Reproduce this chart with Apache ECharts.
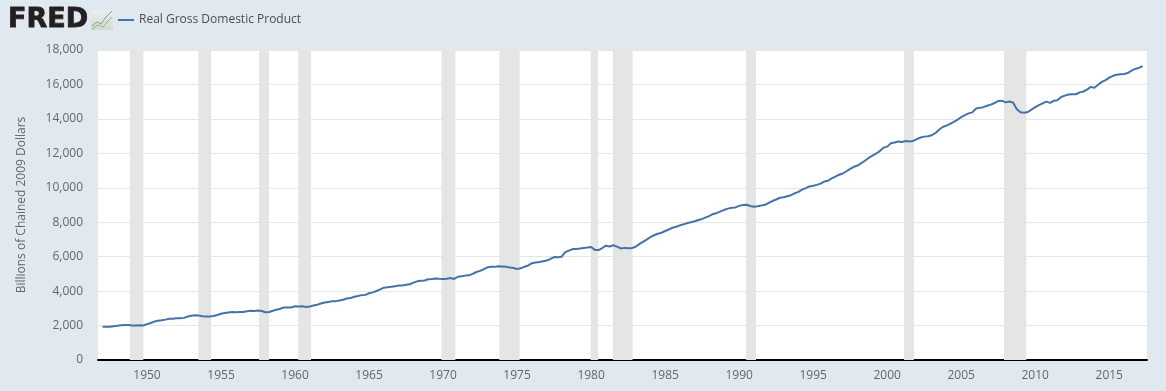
<!DOCTYPE html>
<html lang="en">
	<head>
		<meta charset="utf-8" />
		<title>Real Gross Domestic Product</title>
		<style>
			html, body { margin: 0; padding: 0; background: #e1e9f0; }
		</style>
	</head>
	<body>
		<div id="main" style="width: 1166px; height: 391px;"></div>

		<script src="https://cdn.jsdelivr.net/npm/echarts@6/dist/echarts.min.js"></script>
		<script type="text/javascript">
			const seriesName = 'Real Gross Domestic Product';
			const yAxisName = 'Billions of Chained 2009 Dollars';
			const firstYear = 1947;
			const yTicks = [0, 2000, 4000, 6000, 8000, 10000, 12000, 14000, 16000, 18000];
			const xTickYears = [1950, 1955, 1960, 1965, 1970, 1975, 1980, 1985, 1990, 1995, 2000, 2005, 2010, 2015];

			// quarterly values (1947 Q1 onward, three years a row)
			const gdp = [
				1934, 1932, 1930, 1961, 1990, 2022, 2033, 2035, 2008, 2001, 2023, 2005,
				2085, 2148, 2230, 2273, 2305, 2345, 2393, 2398, 2424, 2429, 2446, 2526,
				2573, 2594, 2579, 2540, 2528, 2531, 2559, 2609, 2684, 2728, 2764, 2781,
				2770, 2793, 2791, 2836, 2855, 2848, 2876, 2846, 2773, 2791, 2856, 2922,
				2977, 3049, 3043, 3055, 3123, 3111, 3119, 3081, 3102, 3160, 3213, 3278,
				3337, 3373, 3405, 3418, 3456, 3501, 3570, 3595, 3673, 3716, 3767, 3780,
				3874, 3926, 4006, 4101, 4202, 4219, 4249, 4286, 4325, 4329, 4366, 4401,
				4491, 4566, 4599, 4620, 4692, 4707, 4736, 4716, 4707, 4715, 4757, 4708,
				4834, 4862, 4900, 4914, 4997, 5109, 5173, 5270, 5385, 5418, 5408, 5445,
				5434, 5420, 5373, 5339, 5286, 5323, 5418, 5491, 5621, 5661, 5689, 5733,
				5773, 5866, 5975, 5964, 5989, 6260, 6350, 6440, 6448, 6475, 6508, 6530,
				6558, 6392, 6383, 6502, 6636, 6587, 6662, 6586, 6475, 6510, 6487, 6493,
				6578, 6729, 6860, 6993, 7133, 7244, 7331, 7390, 7490, 7580, 7680, 7740,
				7820, 7880, 7950, 8000, 8060, 8130, 8190, 8280, 8370, 8480, 8540, 8630,
				8720, 8790, 8845, 8860, 8950, 9000, 9010, 8945, 8900, 8930, 8965, 9010,
				9130, 9230, 9320, 9420, 9450, 9510, 9570, 9680, 9760, 9890, 9980, 10080,
				10120, 10170, 10240, 10360, 10410, 10550, 10650, 10760, 10830, 10960, 11100, 11220,
				11290, 11430, 11570, 11740, 11870, 11990, 12130, 12330, 12390, 12590, 12630, 12690,
				12660, 12711, 12690, 12720, 12823, 12920, 12970, 12990, 13050, 13170, 13373, 13530,
				13606, 13706, 13830, 13951, 14099, 14220, 14320, 14380, 14600, 14640, 14680, 14760,
				14830, 14920, 15040, 15060, 14960, 15010, 14950, 14580, 14380, 14360, 14402, 14541,
				14680, 14800, 14900, 15000, 14930, 15050, 15080, 15270, 15350, 15420, 15430, 15430,
				15540, 15590, 15700, 15860, 15810, 15980, 16150, 16250, 16400, 16500, 16560, 16590,
				16610, 16660, 16800, 16900, 16960, 17070
			];

			// recession bands as decimal years
			const recessionStart = [1948.84, 1953.47, 1957.57, 1960.22, 1969.89, 1973.8, 1979.97, 1981.47, 1990.47, 2001.14, 2007.89];
			const recessionEnd = [1949.75, 1954.33, 1958.25, 1961.08, 1970.83, 1975.17, 1980.47, 1982.8, 1991.14, 2001.8, 2009.4];

			const points = gdp.map((v, i) => [firstYear + i / 4, v]);
			const bands = recessionStart.map((s, i) => [{ xAxis: s }, { xAxis: recessionEnd[i] }]);

			const myChart = echarts.init(document.getElementById('main'));
			const font = '"Open Sans", sans-serif';

			myChart.setOption({
				animation: false,
				backgroundColor: '#e1e9f0',
				textStyle: { fontFamily: font },
				grid: { left: 98, right: 19, top: 50, bottom: 31, show: true, backgroundColor: '#ffffff', borderWidth: 0 },
				legend: {
					left: 113,
					top: 9,
					itemWidth: 16,
					itemHeight: 2,
					itemGap: 5,
					icon: 'rect',
					textStyle: { color: '#4d4d4d', fontSize: 12, fontFamily: font },
					data: [seriesName],
				},
				xAxis: {
					type: 'value',
					min: 1946.69,
					max: 2017.55,
					axisLine: { onZero: false, lineStyle: { color: '#000000', width: 2 } },
					axisTick: { show: false },
					splitLine: { show: false },
					axisLabel: {
						customValues: xTickYears,
						color: '#666666',
						fontSize: 12,
						margin: 10,
						formatter: (v) => String(v),
					},
				},
				yAxis: {
					type: 'value',
					min: yTicks[0],
					max: yTicks[yTicks.length - 1],
					interval: 2000,
					name: yAxisName,
					nameLocation: 'middle',
					nameGap: 70,
					nameTextStyle: { color: '#666666', fontSize: 12, fontFamily: font },
					axisLine: { show: false },
					axisTick: { show: false },
					splitLine: { lineStyle: { color: '#e6e6e6', width: 1 } },
					axisLabel: {
						color: '#666666',
						fontSize: 12,
						margin: 15,
						formatter: (v) => v.toLocaleString('en-US'),
					},
				},
				series: [
					{
						name: seriesName,
						type: 'line',
						data: points,
						showSymbol: false,
						lineStyle: { color: '#4572a7', width: 2 },
						itemStyle: { color: '#4572a7' },
						markArea: {
							silent: true,
							itemStyle: { color: '#e5e5e5' },
							label: { show: false },
							data: bands,
						},
					},
				],
				graphic: [
					{
						type: 'text',
						x: 8,
						y: 20,
						style: {
							text: 'FRED',
							fill: '#231f20',
							stroke: '#231f20',
							lineWidth: 0.8,
							font: 'bold 27px "DejaVu Sans", sans-serif',
							verticalAlign: 'middle',
						},
					},
					{
						type: 'rect',
						shape: { x: 91, y: 10, width: 22, height: 20 },
						style: {
							fill: {
								type: 'linear', x: 0, y: 0, x2: 0, y2: 1,
								colorStops: [{ offset: 0, color: '#eceef0' }, { offset: 1, color: '#d3dac8' }],
							},
						},
					},
					{ type: 'polyline', shape: { points: [[92, 26], [97, 22], [101, 24], [106, 17], [112, 11]] }, style: { stroke: '#7f9ab2', fill: 'none', lineWidth: 1 } },
					{ type: 'polyline', shape: { points: [[92, 29], [98, 25], [103, 27], [108, 21], [112, 17]] }, style: { stroke: '#9fb283', fill: 'none', lineWidth: 1 } },
				],
			});
		</script>
	</body>
</html>
